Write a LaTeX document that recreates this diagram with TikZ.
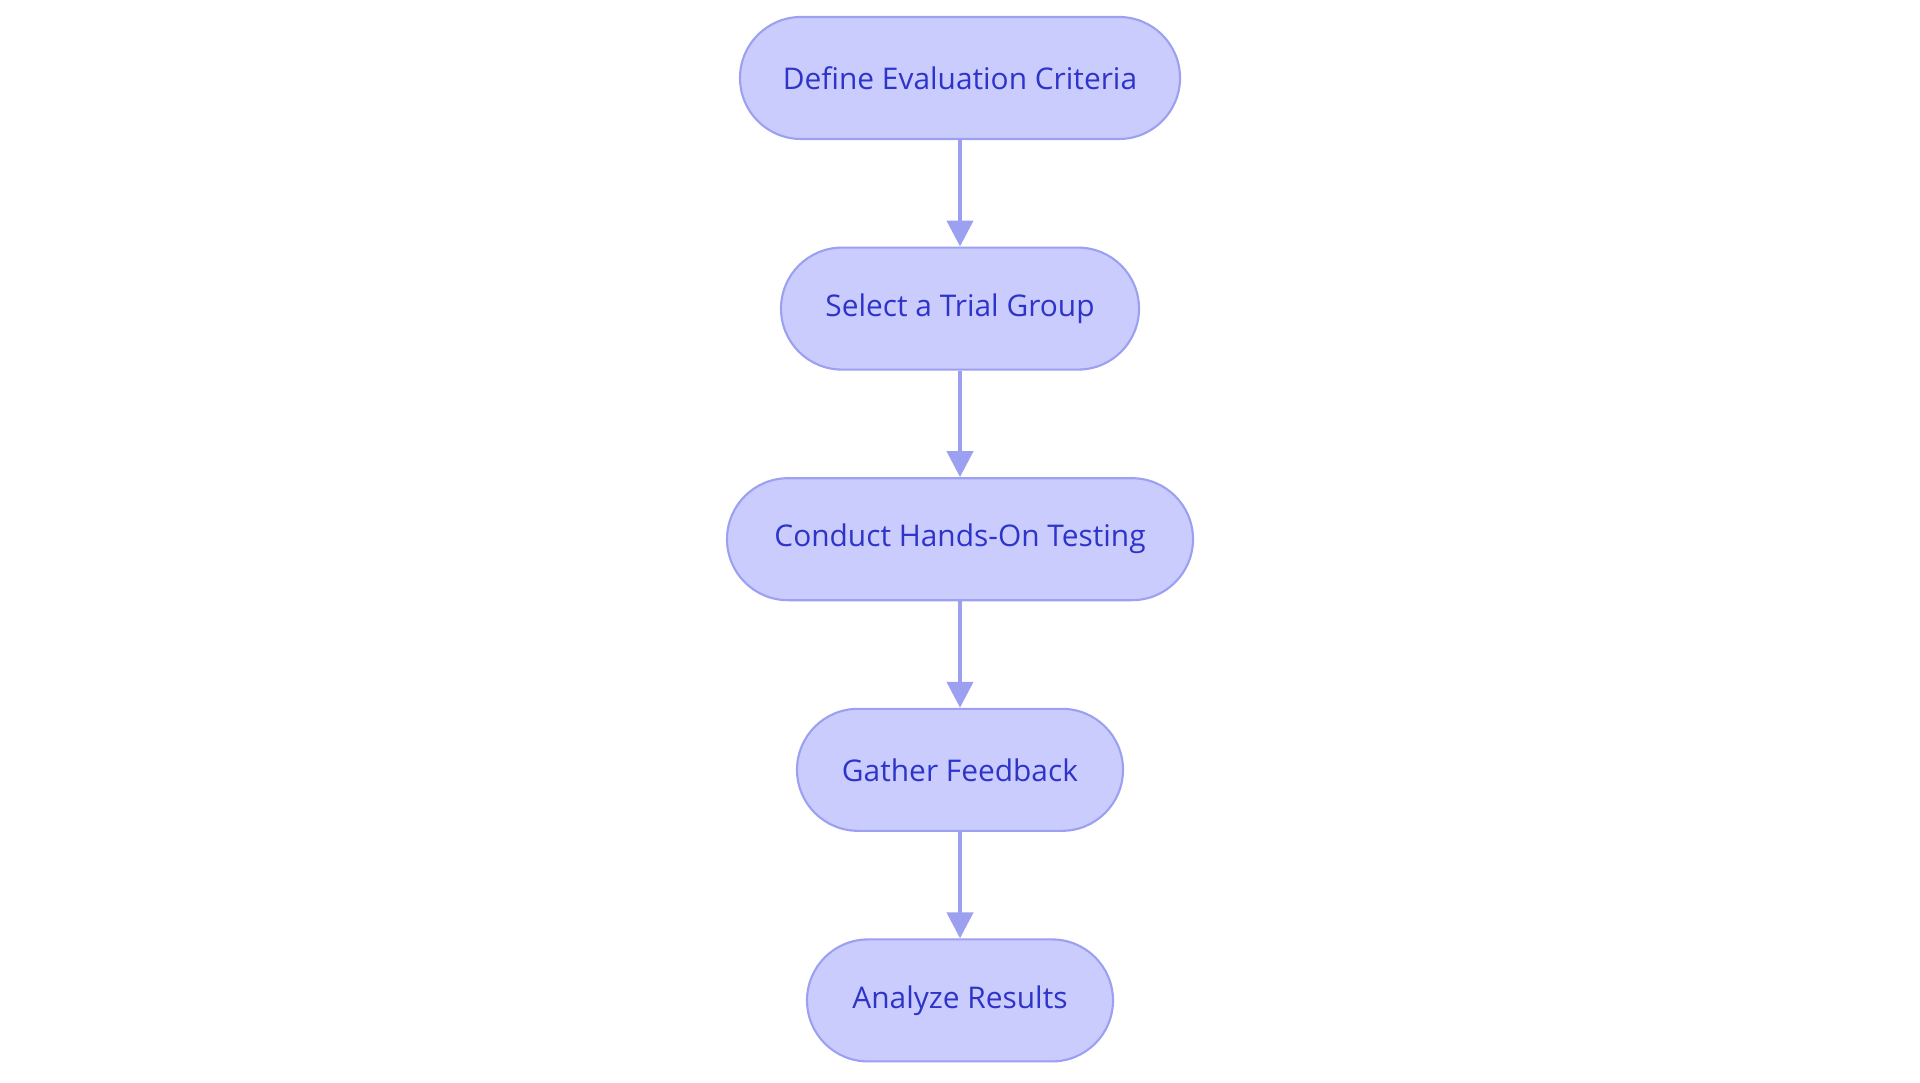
\documentclass[tikz,border=0pt]{standalone}
\usepackage{fontspec}
\setmainfont{Open Sans}
\usepackage{xcolor}
\usetikzlibrary{arrows.meta, positioning}
\definecolor{stepfill}{HTML}{CACCFE}
\definecolor{stepline}{HTML}{9CA0F0}
\definecolor{steptext}{HTML}{2F34C8}

\begin{document}
\begin{tikzpicture}[
  node distance=1.065cm,
  stage/.style={rectangle, draw=stepline, fill=stepfill, line width=0.6pt,
                rounded corners=0.61cm, minimum height=1.22cm,
                font=\fontsize{8.5}{10}\selectfont, text=steptext},
  arr/.style={-{Triangle[length=0.26cm, width=0.26cm]}, draw=stepline,
              line width=1.2pt},
]
  \useasboundingbox (0,0) rectangle (19.2,10.83);
  \node[stage, minimum width=4.40cm] (s1) at (9.6,10.05) {Define Evaluation Criteria};
  \node[stage, minimum width=3.58cm, below=of s1] (s2) {Select a Trial Group};
  \node[stage, minimum width=4.66cm, below=of s2] (s3) {Conduct Hands-On Testing};
  \node[stage, minimum width=3.26cm, below=of s3] (s4) {Gather Feedback};
  \node[stage, minimum width=3.06cm, below=of s4] (s5) {Analyze Results};
  \draw[arr] (s1)--(s2); \draw[arr] (s2)--(s3);
  \draw[arr] (s3)--(s4); \draw[arr] (s4)--(s5);
\end{tikzpicture}
\end{document}
